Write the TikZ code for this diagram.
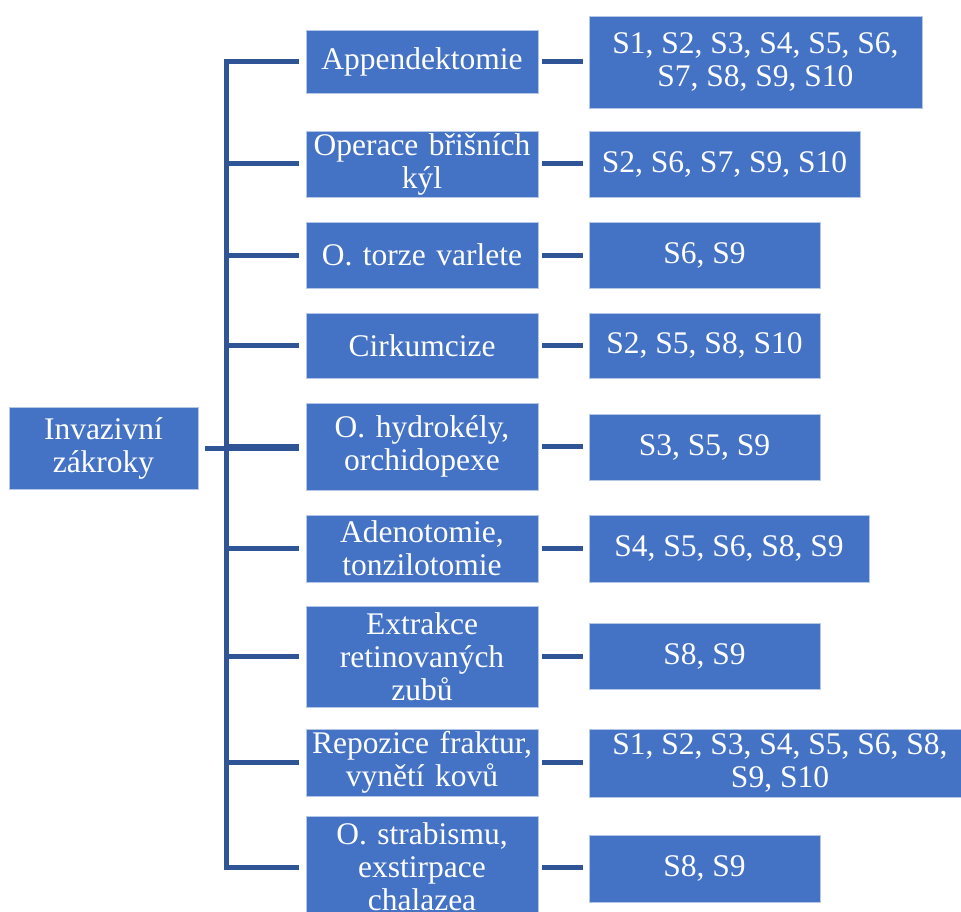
\documentclass[tikz,border=0pt]{standalone}
\usepackage{fontspec}
\setmainfont{Liberation Serif}
\usepackage{tikz}
\usetikzlibrary{positioning, calc}

\definecolor{boxblue}{HTML}{4472C4}
\definecolor{lineblue}{HTML}{2F5597}

\begin{document}
\begin{tikzpicture}[
    x=1pt, y=-1pt,
    font=\fontsize{31.5}{33}\selectfont,
    box/.style={rectangle, draw=white!60!boxblue, line width=0.8pt, fill=boxblue, text=white, align=center, inner sep=2pt},
    rootbox/.style={box, minimum width=189pt, minimum height=82pt},
    proc/.style={box, minimum width=232pt, text width=226pt},
    sites/.style={box},
    link/.style={draw=lineblue, line width=5pt}
]
\useasboundingbox (0,0) rectangle (961,912);
\clip (0,0) rectangle (961,912);

% Root
\node[rootbox] (root) at (103.5,448) {Invazivní\\zákroky};
\coordinate (trunk) at (226,448);

% Procedures
\node[proc, minimum height=63pt] (m1) at (422,61.5) {Appendektomie};
\node[proc, minimum height=66pt] (m2) at (422,164) {Operace břišních\\kýl};
\node[proc, minimum height=66pt] (m3) at (422,255) {O. torze varlete};
\node[proc, minimum height=65pt] (m4) at (422,345.5) {Cirkumcize};
\node[proc, minimum height=87pt] (m5) at (422,446.5) {O. hydrokély,\\orchidopexe};
\node[proc, minimum height=67pt] (m6) at (422,548.5) {Adenotomie,\\tonzilotomie};
\node[proc, minimum height=101pt] (m7) at (422,656.5) {Extrakce\\retinovaných\\zubů};
\node[proc, minimum height=67pt] (m8) at (422,762.5) {Repozice fraktur,\\vynětí kovů};
\node[proc, minimum height=101pt] (m9) at (422,867) {O. strabismu,\\exstirpace\\chalazea};

% Sites
\node[sites, minimum width=333pt, minimum height=92pt] (s1) at (755.5,62) {S1, S2, S3, S4, S5, S6,\\S7, S8, S9, S10};
\node[sites, minimum width=271pt, minimum height=66pt] (s2) at (724.5,164) {S2, S6, S7, S9, S10};
\node[sites, minimum width=231pt, minimum height=66pt] (s3) at (704.5,255) {S6, S9};
\node[sites, minimum width=231pt, minimum height=65pt] (s4) at (704.5,345.5) {S2, S5, S8, S10};
\node[sites, minimum width=231pt, minimum height=66pt] (s5) at (704.5,447) {S3, S5, S9};
\node[sites, minimum width=280pt, minimum height=67pt] (s6) at (729,548.5) {S4, S5, S6, S8, S9};
\node[sites, minimum width=231pt, minimum height=66pt] (s7) at (704.5,656) {S8, S9};
\node[sites, minimum width=382pt, minimum height=68pt] (s8) at (780,763) {S1, S2, S3, S4, S5, S6, S8,\\S9, S10};
\node[sites, minimum width=231pt, minimum height=67pt] (s9) at (704.5,868.5) {S8, S9};

% Connections
\draw[link] ([xshift=7pt]root.east) -- ([xshift=-7pt]root.east -| m5.west);
\draw[link] ([xshift=-7pt]m1.west) -| (trunk |- m9.west) -- ([xshift=-7pt]m9.west);
\draw[link] (trunk |- m2.west) -- ([xshift=-7pt]m2.west);
\draw[link] (trunk |- m3.west) -- ([xshift=-7pt]m3.west);
\draw[link] (trunk |- m4.west) -- ([xshift=-7pt]m4.west);
\draw[link] (trunk |- m5.west) -- ([xshift=-7pt]m5.west);
\draw[link] (trunk |- m6.west) -- ([xshift=-7pt]m6.west);
\draw[link] (trunk |- m7.west) -- ([xshift=-7pt]m7.west);
\draw[link] (trunk |- m8.west) -- ([xshift=-7pt]m8.west);

\draw[link] ([xshift=4pt]m1.east) -- ([xshift=-6pt]s1.west |- m1.east);
\draw[link] ([xshift=4pt]m2.east) -- ([xshift=-6pt]s2.west |- m2.east);
\draw[link] ([xshift=4pt]m3.east) -- ([xshift=-6pt]s3.west |- m3.east);
\draw[link] ([xshift=4pt]m4.east) -- ([xshift=-6pt]s4.west |- m4.east);
\draw[link] ([xshift=4pt]m5.east) -- ([xshift=-6pt]s5.west |- m5.east);
\draw[link] ([xshift=4pt]m6.east) -- ([xshift=-6pt]s6.west |- m6.east);
\draw[link] ([xshift=4pt]m7.east) -- ([xshift=-6pt]s7.west |- m7.east);
\draw[link] ([xshift=4pt]m8.east) -- ([xshift=-6pt]s8.west |- m8.east);
\draw[link] ([xshift=4pt]m9.east) -- ([xshift=-6pt]s9.west |- m9.east);

\end{tikzpicture}
\end{document}
